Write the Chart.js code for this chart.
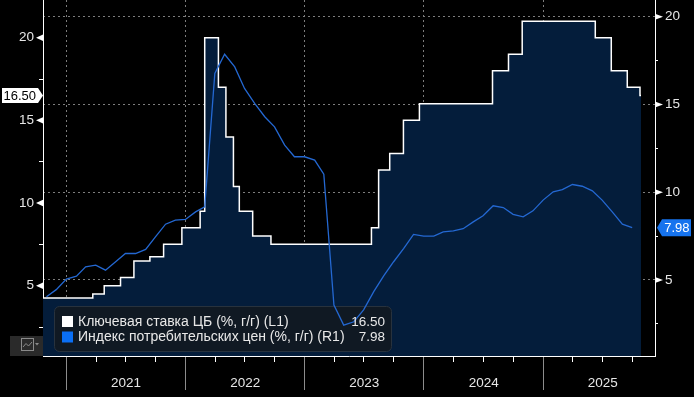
<!DOCTYPE html>
<html><head><meta charset="utf-8">
<script src="https://cdn.jsdelivr.net/npm/chart.js@4/dist/chart.umd.min.js"></script>
<style>html,body{margin:0;padding:0;background:#000;}canvas{display:block}</style>
</head><body>
<canvas id="c" width="694" height="397"></canvas>
<script>
// ---- data ----
const rateDates = ['2020-10-19','2021-03-22','2021-04-26','2021-06-15','2021-07-26','2021-09-13','2021-10-25','2021-12-20','2022-02-14','2022-02-28','2022-04-11','2022-05-04','2022-05-27','2022-06-14','2022-07-25','2022-09-19','2023-07-24','2023-08-15','2023-09-18','2023-10-30','2023-12-18','2024-07-29','2024-09-16','2024-10-28','2025-06-09','2025-07-28','2025-09-15','2025-10-24','2025-10-27'];
const rateValues = [4.25,4.5,5,5.5,6.5,6.75,7.5,8.5,9.5,20,17,14,11,9.5,8,7.5,8.5,12,13,15,16,18,19,21,20,18,17,16.5,16.5];
const cpiMonths = ['2020-10','2020-11','2020-12',
 '2021-01','2021-02','2021-03','2021-04','2021-05','2021-06','2021-07','2021-08','2021-09','2021-10','2021-11','2021-12',
 '2022-01','2022-02','2022-03','2022-04','2022-05','2022-06','2022-07','2022-08','2022-09','2022-10','2022-11','2022-12',
 '2023-01','2023-02','2023-03','2023-04','2023-05','2023-06','2023-07','2023-08','2023-09','2023-10','2023-11','2023-12',
 '2024-01','2024-02','2024-03','2024-04','2024-05','2024-06','2024-07','2024-08','2024-09','2024-10','2024-11','2024-12',
 '2025-01','2025-02','2025-03','2025-04','2025-05','2025-06','2025-07','2025-08','2025-09'];
const cpiValues = [4.04,4.45,5.05,
 5.22,5.75,5.85,5.56,6.04,6.51,6.51,6.74,7.46,8.18,8.41,8.45,
 8.88,9.17,16.77,17.86,17.14,15.91,15.06,14.30,13.72,12.68,12.02,12.02,
 11.83,11.03,3.57,2.43,2.62,3.30,4.34,5.25,6.04,6.80,7.60,7.50,
 7.50,7.74,7.80,7.92,8.31,8.66,9.23,9.13,8.74,8.60,8.94,9.55,
 10.02,10.15,10.44,10.34,10.08,9.55,8.88,8.18,7.98];
const yearLabels = ['2021','2022','2023','2024','2025'];
const leftTicks = [2.5,5,7.5,10,12.5,15,17.5,20];
const rightTicks = [2.5,5,7.5,10,12.5,15,17.5,20];
const seriesNames = ['Ключевая ставка ЦБ (%, г/г) (L1)','Индекс потребительских цен (%, г/г) (R1)'];

// ---- helpers ----
const BASE = Date.UTC(2021,0,1);
const DAY = 86400000;
function dayOf(s){const p=s.split('-').map(Number);return (Date.UTC(p[0],p[1]-1,p[2])-BASE)/DAY;}
function monthEnd(s){const p=s.split('-').map(Number);return (Date.UTC(p[0],p[1],0)-BASE)/DAY;}
const yearStart = yearLabels.map(y=>dayOf(y+'-01-01'));
const yearMid = yearLabels.map(y=>dayOf(y+'-07-02'));
const quarters = [];
yearLabels.forEach(y=>['04','07','10'].forEach(m=>quarters.push(dayOf(y+'-'+m+'-01'))));
const xTicks = [...yearStart,...yearMid,...quarters].sort((a,b)=>a-b);
const isYS = v=>yearStart.includes(v), isQ = v=>quarters.includes(v);

const FONT = '"Liberation Sans", Arial, sans-serif';
Chart.defaults.font.family = FONT;

const rateData = rateDates.map((d,i)=>({x:dayOf(d),y:rateValues[i]}));
const cpiData = cpiMonths.map((m,i)=>({x:monthEnd(m),y:cpiValues[i]}));

const GRID = '#7d7d7d';
const noPad = s=>{s.paddingTop=0;s.paddingBottom=0;s.paddingLeft=0;s.paddingRight=0;};
const deco = {
  id:'deco',
  beforeDatasetDraw(chart,args){
    if(args.index!==0) return;
    const ctx=chart.ctx;
    ctx.save();
    ctx.beginPath();ctx.roundRect(54.5,306.5,337,45,5);
    ctx.fillStyle='rgba(20,24,31,0.82)';ctx.fill();
    ctx.strokeStyle='#28323d';ctx.lineWidth=1;ctx.stroke();
    ctx.restore();
  },
  afterDraw(chart){
    const ctx=chart.ctx, a=chart.chartArea, yL=chart.scales.yL, yR=chart.scales.yR;
    ctx.save();
    ctx.fillStyle='#ffffff';
    leftTicks.filter(v=>v%5===0).forEach(v=>{const y=yL.getPixelForValue(v);ctx.beginPath();ctx.moveTo(a.left,y-3.2);ctx.lineTo(a.left-7,y);ctx.lineTo(a.left,y+3.2);ctx.closePath();ctx.fill();});
    rightTicks.filter(v=>v%5===0).forEach(v=>{const y=yR.getPixelForValue(v);ctx.beginPath();ctx.moveTo(a.right,y-3);ctx.lineTo(a.right+8,y);ctx.lineTo(a.right,y+3);ctx.closePath();ctx.fill();});
    // last value tags
    const lr=rateValues[rateValues.length-1], yr=yL.getPixelForValue(lr);
    ctx.fillStyle='#ffffff';
    ctx.beginPath();ctx.moveTo(2,yr-7.5);ctx.lineTo(38,yr-7.5);ctx.lineTo(a.left,yr);ctx.lineTo(38,yr+7.5);ctx.lineTo(2,yr+7.5);ctx.closePath();ctx.fill();
    ctx.font='13px '+FONT;ctx.textBaseline='middle';ctx.textAlign='right';ctx.fillStyle='#000';
    ctx.fillText(lr.toFixed(2),36,yr+0.5);
    const lc=cpiValues[cpiValues.length-1], yc=yR.getPixelForValue(lc);
    ctx.fillStyle='#1673ee';
    ctx.beginPath();ctx.moveTo(a.right+2,yc);ctx.lineTo(a.right+7,yc-8.5);ctx.lineTo(691,yc-8.5);ctx.lineTo(691,yc+8.5);ctx.lineTo(a.right+7,yc+8.5);ctx.closePath();ctx.fill();
    ctx.fillStyle='#ffffff';ctx.fillText(lc.toFixed(2),689.5,yc+0.5);
    // legend content
    const cols=['#ffffff','#0a6ff5'], vals=[lr.toFixed(2),lc.toFixed(2)];
    seriesNames.forEach((n,i)=>{
      const cy=321.5+i*15.5;
      ctx.fillStyle=cols[i];ctx.fillRect(62,cy-5.5,11,11);
      ctx.fillStyle='#e8e8e8';ctx.textAlign='left';ctx.font='14px '+FONT;ctx.fillText(n,78,cy+0.5);
      ctx.textAlign='right';ctx.font='13.5px '+FONT;ctx.fillText(vals[i],385,cy+0.5);
    });
    // icon
    ctx.fillStyle='#2a2a2a';ctx.fillRect(10,336,33,20);
    ctx.strokeStyle='#8a8a8a';ctx.lineWidth=1;ctx.strokeRect(21.5,338.5,12,12);
    ctx.beginPath();ctx.moveTo(23,347);ctx.lineTo(26,343.5);ctx.lineTo(28.5,346);ctx.lineTo(32,342);ctx.stroke();
    ctx.fillStyle='#8a8a8a';ctx.beginPath();ctx.moveTo(35,343);ctx.lineTo(39,343);ctx.lineTo(37,345.5);ctx.closePath();ctx.fill();
    ctx.restore();
  }
};

new Chart(document.getElementById('c'),{
  type:'line',
  data:{datasets:[
    {label:seriesNames[1],data:cpiData,xAxisID:'x',yAxisID:'yR',borderColor:'#2468d2',borderWidth:1.3,pointRadius:0,fill:false,tension:0,order:0},
    {label:seriesNames[0],data:rateData,xAxisID:'x',yAxisID:'yL',borderColor:'#ffffff',borderWidth:1.5,pointRadius:0,stepped:'before',fill:'start',backgroundColor:'#041d3b',order:1}
  ]},
  options:{
    responsive:false,animation:false,devicePixelRatio:1,
    layout:{padding:0},
    plugins:{legend:{display:false},tooltip:{enabled:false}},
    scales:{
      x:{type:'linear',position:'bottom',min:-72.6,max:1803,
        afterBuildTicks:s=>{s.ticks=xTicks.map(v=>({value:v}));},
        afterFit:s=>{s.height=41;noPad(s);},
        ticks:{autoSkip:false,maxRotation:0,minRotation:0,padding:-15,color:'#e6e6e6',font:{size:13.5},
          callback:v=>{const i=yearMid.indexOf(v);return i>=0?yearLabels[i]:'';}},
        grid:{drawOnChartArea:true,tickLength:34,lineWidth:1,
          color:c=>isYS(c.tick.value)?GRID:'rgba(0,0,0,0)',
          tickColor:c=>isYS(c.tick.value)?'#8c8c8c':(isQ(c.tick.value)?'#ffffff':'rgba(0,0,0,0)'),
          tickBorderDash:c=>isQ(c.tick.value)?[5,200]:[]},
        border:{color:'#ffffff',width:1,dash:[2,3]}
      },
      yL:{position:'left',min:0.747,max:22.28,
        afterBuildTicks:s=>{s.ticks=leftTicks.map(v=>({value:v}));},
        afterFit:s=>{s.width=43;noPad(s);},
        ticks:{padding:5,color:'#e6e6e6',font:{size:13.5},callback:v=>v%5===0?String(v):''},
        grid:{drawOnChartArea:false,tickLength:4,tickBorderDash:[],tickColor:c=>c.tick.value%5===0?'rgba(0,0,0,0)':'#ffffff'},
        border:{color:'#ffffff',width:1}
      },
      yR:{position:'right',min:0.670,max:20.95,
        afterBuildTicks:s=>{s.ticks=rightTicks.map(v=>({value:v}));},
        afterFit:s=>{s.width=39;noPad(s);},
        ticks:{padding:7,color:'#e6e6e6',font:{size:13.5},callback:v=>v%5===0?String(v):''},
        grid:{drawOnChartArea:true,tickLength:3,lineWidth:1,tickBorderDash:[],
          color:c=>c.tick.value%5===0?GRID:'rgba(0,0,0,0)',
          tickColor:c=>c.tick.value%5===0?'rgba(0,0,0,0)':'#ffffff'},
        border:{color:'#ffffff',width:1,dash:[2,3]}
      }
    }
  },
  plugins:[deco]
});
</script>
</body></html>
